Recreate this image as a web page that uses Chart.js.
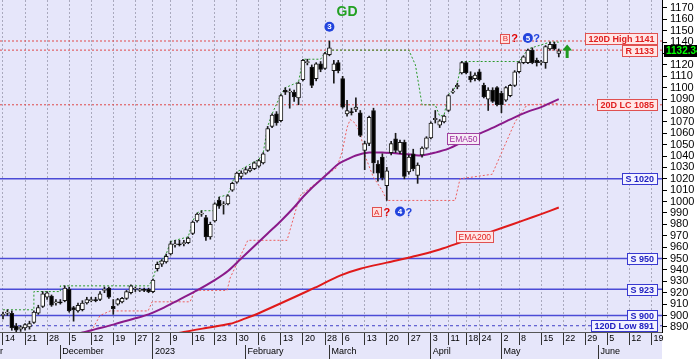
<!DOCTYPE html>
<html>
<head>
<meta charset="utf-8">
<script src="https://cdn.jsdelivr.net/npm/chart.js@4.4.0/dist/chart.umd.min.js"></script>
<style>
  html, body { margin: 0; padding: 0; background: #fff; }
  #wrap { width: 697px; height: 359px; position: relative; }
</style>
</head>
<body>
<div id="wrap"><canvas id="myChart"></canvas></div>
<script>
// daily candles, index 0 = Nov 14 2022
const opens  = [900,902,902,891,888,889,890,894,902,908,916,917,911,912,913,923,907,904,905,911,913,914,914,922,924,908,910,912,915,920,923,922,923,923,921,941,945,947,954,962,963,963,964,972,983,989,986,969,983,1001,997,998,1010,1017,1022,1025,1027,1029,1031,1034,1045,1066,1077,1071,1098,1096,1096,1091,1107,1122,1118,1108,1121,1117,1129,1115,1122,1108,1077,1079,1081,1078,1045,1051,1080,1033,1039,1014,1043,1055,1044,1052,1026,1042,1023,1041,1047,1056,1072,1067,1070,1080,1096,1101,1113,1122,1110,1108,1114,1102,1090,1098,1100,1095,1089,1093,1102,1114,1122,1122,1133,1124,1122,1122,1134,1138,1130];
const highs  = [903,905,904,893,891,893,895,904,909,921,921,918,914,914,926,925,908,911,913,916,916,916,921,925,925,914,915,916,922,927,925,924,924,924,932,947,949,954,965,966,966,966,969,983,990,992,988,982,999,1004,1000,1006,1017,1026,1027,1030,1031,1035,1037,1043,1066,1077,1079,1094,1100,1099,1098,1105,1125,1125,1120,1122,1123,1131,1141,1124,1124,1110,1089,1082,1091,1080,1053,1075,1082,1036,1042,1030,1053,1060,1054,1054,1041,1046,1034,1048,1057,1070,1080,1072,1076,1094,1099,1104,1123,1123,1114,1113,1116,1104,1100,1100,1101,1097,1101,1103,1115,1123,1128,1134,1135,1126,1124,1137,1140,1140,1134];
const lows   = [897,900,887,885,886,887,888,893,901,907,914,908,909,910,912,903,895,903,904,910,912,912,913,920,915,901,909,911,914,919,921,921,921,920,920,939,943,946,953,960,961,961,963,971,982,987,966,967,982,994,989,997,1009,1016,1020,1024,1026,1028,1030,1033,1044,1065,1067,1070,1094,1082,1088,1085,1106,1120,1100,1106,1114,1116,1128,1104,1113,1082,1075,1076,1079,1057,1028,1049,1025,1018,1019,1001,1041,1043,1042,1020,1024,1027,1016,1039,1046,1055,1069,1065,1069,1079,1095,1099,1112,1112,1105,1106,1106,1091,1080,1087,1084,1078,1088,1092,1101,1113,1121,1121,1121,1119,1120,1117,1133,1133,1127];
const closes = [901,903,889,887,890,892,893,903,907,919,920,909,912,911,924,904,905,909,911,914,914,913,919,923,916,906,914,915,921,926,923,923,922,921,931,945,948,952,963,963,962,964,968,982,989,990,969,980,998,996,998,1005,1016,1025,1025,1028,1029,1034,1036,1042,1064,1076,1069,1093,1096,1097,1092,1104,1124,1123,1102,1121,1116,1130,1135,1121,1115,1083,1080,1078,1083,1058,1051,1074,1034,1025,1021,1027,1051,1045,1052,1022,1039,1029,1032,1047,1056,1069,1073,1071,1075,1093,1097,1102,1122,1113,1107,1111,1107,1092,1098,1088,1085,1085,1100,1102,1114,1122,1127,1133,1122,1122,1123,1136,1138,1134,1132.34];

// moving averages (day index, value)
const ema50Idx = [0,5,10,15,18,21,25,30,33,36,40,44,48,51,54,57,60,63,66,68,70,72,74,76,78,80,83,86,90,93,95,98,101,104,107,110,113,116,119,122,124,126];
const ema50Val = [866,872,877.5,882.5,885,888,892,897.5,901,906,914,922,931,939,950,961,972,983,995,1004,1012,1019,1026,1033,1037,1040.5,1043,1043,1042,1041,1040.5,1043,1046.5,1052,1058,1063,1068.5,1074,1079,1083,1086.5,1090];
const ema200Idx = [30,36,41,46,51.5,55,58,62,66,70.7,76.4,81,87,94,99,103.6,108,113.4,118,122,126];
const ema200Val = [877,881.5,885.5,889,892.7,897.5,902,909,916,924.4,935,941,946.4,952.6,958,964,970,977.2,983.5,989,994.8];

// upper / lower trailing channel (dotted)
const upIdx = [0,7,7,13,13,33,34,35,36,37,38,42,43,44,45,48,49,51,52,53,57,58,59,60,61,63,64,67,68,72,73,74,92,93.5,95,98,99,100,101,102,103,104,117,118,119,124,126];
const upVal = [905,905,921,921,926,926,932,946,949,954,965,969,983,990,992,992,1004,1006,1017,1026,1035,1037,1043,1066,1077,1094,1100,1105,1125,1125,1131,1133,1133,1120,1085,1085,1075,1076,1094,1097,1104,1123,1123,1128,1134,1140,1140];
const loIdx = [13,19.7,22,24.3,32.9,33.8,42.4,43.5,50.8,51.5,55.5,64.4,67.3,72.6,75.7,76.9,78,78.7,79.8,81,82.1,83.9,85.9,87.1,102.5,103.6,110.9,112.7,116.1,118.8,126];
const loVal = [884,884,900,904,904,912,912,922,922,933,966,966,1005,1021,1030,1044,1065,1072,1069,1060,1040,1022,1010,1001,1001,1020,1024,1040,1070,1085,1086];

// horizontal levels
const levelVals   = [1141, 1133, 1085, 1020, 950, 923, 900, 891];
const levelLabels = ['120D High 1141', 'R 1133', '20D LC 1085', 'S 1020', 'S 950', 'S 923', 'S 900', '120D Low 891'];
const levelKinds  = ['r', 'r', 'r', 's', 's', 's', 's', 'low'];

// axis ticks
const yTicks = [890,900,910,920,930,940,950,960,970,980,990,1000,1010,1020,1030,1040,1050,1060,1070,1080,1090,1100,1110,1120,1130,1140,1150,1160,1170];
const weekIdx = [0,5,10,15,20,25,30,34,38,43,48,53,58,63,68,73,77,82,87,92,97,101,105,108,113,117,122,127,132,137,142,147];
const weekLabels = ['14','21','28','5','12','19','27','2','9','16','23','30','6','13','20','28','6','13','20','27','3','11','18','24','2','8','15','22','29','5','12','19'];
const monthIdx = [13, 34, 55, 74, 97, 113, 135];
const monthLabels = ['December','2023','February','March','April','May','June'];

// annotations
const waveIdx = [74, 90, 119];
const wavePrice = [1153.5, 991.3, 1143.6];
const waveText = ['3', '4', '5'];
const abIdx = [84.6, 113.8];
const abPrice = [991.3, 1143.6];
const abText = ['A', 'B'];
const redQIdx = [87, 116];
const blueQIdx = [92, 121];

const xMin = -0.68, xMax = 149.4;
const yMin = 885.5, yMax = 1177;
const FONT = 'Liberation Sans, Arial, sans-serif';

const pts = (xs, ys) => xs.map((x, i) => ({x: x, y: ys[i]}));

const bodies = opens.map((o, i) => ({x: i, y: [Math.min(o, closes[i]), Math.max(o, closes[i])]}));
const wicks = lows.map((l, i) => ({x: i, y: [l, highs[i]]}));
const bodyColors = opens.map((o, i) => closes[i] >= o ? '#ffffff' : '#000000');

const levelSets = levelVals.map((v, i) => {
  const k = levelKinds[i];
  return {
    type: 'line',
    data: [{x: xMin, y: v}, {x: xMax, y: v}],
    borderColor: k === 'r' ? '#e04848' : (k === 's' ? '#4b4bd6' : '#4040c8'),
    borderWidth: k === 's' ? 1.5 : 1,
    borderDash: k === 'r' ? [2, 2] : (k === 'low' ? [3, 3] : []),
    pointRadius: 0,
    order: 10
  };
});

function drawTag(ctx, text, xr, yc, fg, bg, bd, font, pad) {
  ctx.font = font;
  const w = Math.round(ctx.measureText(text).width + pad * 2);
  const h = 11;
  const x = Math.round(xr - w) + 0.5, y = Math.round(yc - h / 2) + 0.5;
  ctx.fillStyle = bg;
  ctx.fillRect(x, y, w, h);
  ctx.strokeStyle = bd;
  ctx.lineWidth = 1;
  ctx.strokeRect(x, y, w, h);
  ctx.fillStyle = fg;
  ctx.textAlign = 'left';
  ctx.textBaseline = 'middle';
  ctx.fillText(text, x + pad, y + h / 2 + 0.5);
}

const bgPlugin = {
  id: 'bg',
  beforeDraw(chart) {
    const {ctx, chartArea, width, height} = chart;
    ctx.save();
    ctx.fillStyle = '#ffffff';
    ctx.fillRect(0, 0, width, height);
    ctx.fillStyle = '#e6e6fa';
    ctx.fillRect(0, 0, chartArea.right, height);
    ctx.restore();
  }
};

const notesPlugin = {
  id: 'notes',
  afterDatasetsDraw(chart) {
    const {ctx, chartArea} = chart;
    const xs = chart.scales.x, ys = chart.scales.y;
    ctx.save();
    // level labels (the high label sits a little above its line)
    levelVals.forEach((v, i) => {
      const k = levelKinds[i];
      const y = ys.getPixelForValue(v) - (i === 0 ? 3 : 0);
      if (k === 'r') drawTag(ctx, levelLabels[i], chartArea.right - 5, y, '#e02020', '#ffe6e6', '#e05050', 'bold 9px ' + FONT, 3);
      else drawTag(ctx, levelLabels[i], chartArea.right - 5, y, '#2020c0', '#f2f2ff', '#3838d0', 'bold 9px ' + FONT, 3);
    });
    // EMA labels
    let t = 'EMA50';
    ctx.font = '8.5px ' + FONT;
    let w = ctx.measureText(t).width + 4;
    drawTag(ctx, t, xs.getPixelForValue(104.4) + w / 2, ys.getPixelForValue(1055.6), '#a02aa0', '#f6ecf6', '#a040a0', '8.5px ' + FONT, 2);
    t = 'EMA200';
    w = ctx.measureText(t).width + 4;
    drawTag(ctx, t, xs.getPixelForValue(107) + w / 2, ys.getPixelForValue(969.7), '#e02020', '#ffe6e6', '#e05050', '8.5px ' + FONT, 2);

    // title
    ctx.fillStyle = '#22a022';
    ctx.font = 'bold 14px ' + FONT;
    ctx.textAlign = 'center';
    ctx.textBaseline = 'middle';
    ctx.fillText('GD', xs.getPixelForValue(78), ys.getPixelForValue(1166));

    // wave circles
    waveIdx.forEach((ix, i) => {
      const x = xs.getPixelForValue(ix), y = ys.getPixelForValue(wavePrice[i]);
      ctx.fillStyle = '#2244dd';
      ctx.beginPath();
      ctx.arc(x, y, 5, 0, Math.PI * 2);
      ctx.fill();
      ctx.fillStyle = '#ffffff';
      ctx.font = 'bold 8px ' + FONT;
      ctx.textAlign = 'center';
      ctx.textBaseline = 'middle';
      ctx.fillText(waveText[i], x, y + 0.5);
    });
    // A / B boxes
    abIdx.forEach((ix, i) => {
      const x = xs.getPixelForValue(ix), y = ys.getPixelForValue(abPrice[i]);
      ctx.fillStyle = '#ffe0e0';
      ctx.fillRect(Math.round(x - 4.5) + 0.5, Math.round(y - 4.5) + 0.5, 9, 9);
      ctx.strokeStyle = '#e05050';
      ctx.lineWidth = 1;
      ctx.strokeRect(Math.round(x - 4.5) + 0.5, Math.round(y - 4.5) + 0.5, 9, 9);
      ctx.fillStyle = '#e03030';
      ctx.font = '8px ' + FONT;
      ctx.textAlign = 'center';
      ctx.fillText(abText[i], x + 0.5, y + 1);
    });
    // question marks
    ctx.font = 'bold 11px ' + FONT;
    ctx.textAlign = 'center';
    ctx.textBaseline = 'middle';
    redQIdx.forEach((ix, i) => {
      ctx.fillStyle = '#e00000';
      ctx.fillText('?', xs.getPixelForValue(ix), ys.getPixelForValue(abPrice[i]) + 1);
    });
    blueQIdx.forEach((ix, i) => {
      ctx.fillStyle = '#2244dd';
      ctx.fillText('?', xs.getPixelForValue(ix), ys.getPixelForValue(abPrice[i]) + 1);
    });
    // green arrow
    const ax = xs.getPixelForValue(127.9), at = ys.getPixelForValue(1138), ab = ys.getPixelForValue(1126);
    ctx.fillStyle = '#1f9a1f';
    ctx.beginPath();
    ctx.moveTo(ax, at);
    ctx.lineTo(ax + 5, at + 6);
    ctx.lineTo(ax + 1.5, at + 6);
    ctx.lineTo(ax + 1.5, ab);
    ctx.lineTo(ax - 1.5, ab);
    ctx.lineTo(ax - 1.5, at + 6);
    ctx.lineTo(ax - 5, at + 6);
    ctx.closePath();
    ctx.fill();
    ctx.restore();
  },
  afterDraw(chart) {
    const {ctx, chartArea, width} = chart;
    const last = closes[closes.length - 1];
    const y = Math.round(chart.scales.y.getPixelForValue(last));
    ctx.save();
    ctx.fillStyle = '#000000';
    ctx.fillRect(chartArea.right + 2, y - 6, width - chartArea.right - 2, 12);
    ctx.fillStyle = '#00ff00';
    ctx.font = 'bold 10px ' + FONT;
    ctx.textAlign = 'left';
    ctx.textBaseline = 'middle';
    ctx.fillText(last.toFixed(2), chartArea.right + 4, y + 0.5);
    // clipped month name at the far left
    ctx.fillStyle = '#000';
    ctx.font = '9px ' + FONT;
    ctx.textBaseline = 'middle';
    ctx.textAlign = 'right';
    ctx.fillText('November', chartArea.left + 3, chart.scales.x2.top + 6.5);
    ctx.restore();
  }
};

const noPad = s => { s.paddingLeft = 0; s.paddingRight = 0; s.paddingTop = 0; s.paddingBottom = 0; };

const ctx = document.getElementById('myChart').getContext('2d');
const chart = new Chart(ctx, {
  type: 'bar',
  data: {
    datasets: [
      {
        type: 'bar', data: bodies, backgroundColor: bodyColors, borderColor: '#1a1a1a',
        borderWidth: 1, borderSkipped: false, barThickness: 4, minBarLength: 1, grouped: false, order: 1
      },
      {
        type: 'bar', data: wicks, backgroundColor: '#1a1a1a', borderWidth: 0,
        barThickness: 1, grouped: false, order: 2
      },
      {
        type: 'line', data: pts(ema50Idx, ema50Val), borderColor: '#8a1a8a', borderWidth: 2,
        pointRadius: 0, tension: 0.3, order: 5
      },
      {
        type: 'line', data: pts(ema200Idx, ema200Val), borderColor: '#e01a1a', borderWidth: 2,
        pointRadius: 0, tension: 0.3, order: 5
      },
      {
        type: 'line', data: pts(upIdx, upVal), borderColor: '#2a9a2a', borderWidth: 1,
        borderDash: [2, 2], pointRadius: 0, order: 7
      },
      {
        type: 'line', data: pts(loIdx, loVal), borderColor: '#ee6060', borderWidth: 1,
        borderDash: [2, 2], pointRadius: 0, order: 7
      },
      ...levelSets
    ]
  },
  options: {
    responsive: true,
    maintainAspectRatio: false,
    animation: false,
    layout: { padding: 0, autoPadding: false },
    plugins: { legend: { display: false }, tooltip: { enabled: false }, title: { display: false } },
    scales: {
      x: {
        type: 'linear', position: 'bottom', min: xMin, max: xMax, weight: 0, offset: false,
        afterBuildTicks: s => { s.ticks = weekIdx.map(v => ({value: v})); },
        afterFit: s => { s.height = 13; noPad(s); },
        ticks: {
          autoSkip: false, maxRotation: 0, align: 'start', labelOffset: 2, padding: -12,
          color: '#000', font: { size: 9, family: FONT },
          callback: (v, i) => weekLabels[i]
        },
        grid: { offset: false, color: '#a9a9bd', lineWidth: 1, drawTicks: true, tickLength: 13, tickColor: '#333', tickWidth: 1, tickBorderDash: [] },
        border: { display: true, color: '#555', width: 1, dash: [2, 2] }
      },
      x2: {
        type: 'linear', position: 'bottom', min: xMin, max: xMax, weight: 1, offset: false,
        afterBuildTicks: s => { s.ticks = monthIdx.map(v => ({value: v})); },
        afterFit: s => { s.height = 14; noPad(s); },
        ticks: {
          autoSkip: false, maxRotation: 0, align: 'start', labelOffset: 2, padding: -13,
          color: '#000', font: { size: 9, family: FONT },
          callback: (v, i) => monthLabels[i]
        },
        grid: { offset: false, drawOnChartArea: false, drawTicks: true, tickLength: 14, tickColor: '#333', tickWidth: 1 },
        border: { display: false }
      },
      y: {
        type: 'linear', position: 'right', min: yMin, max: yMax,
        afterBuildTicks: s => { s.ticks = yTicks.map(v => ({value: v})); },
        afterFit: s => { s.width = 35; noPad(s); },
        ticks: { autoSkip: false, padding: 3, color: '#000', font: { size: 11, family: FONT }, callback: v => v },
        grid: { drawOnChartArea: false, drawTicks: true, tickLength: 5, tickColor: '#000' },
        border: { display: true, color: '#000', width: 1 }
      }
    }
  },
  plugins: [bgPlugin, notesPlugin]
});
</script>
</body>
</html>
